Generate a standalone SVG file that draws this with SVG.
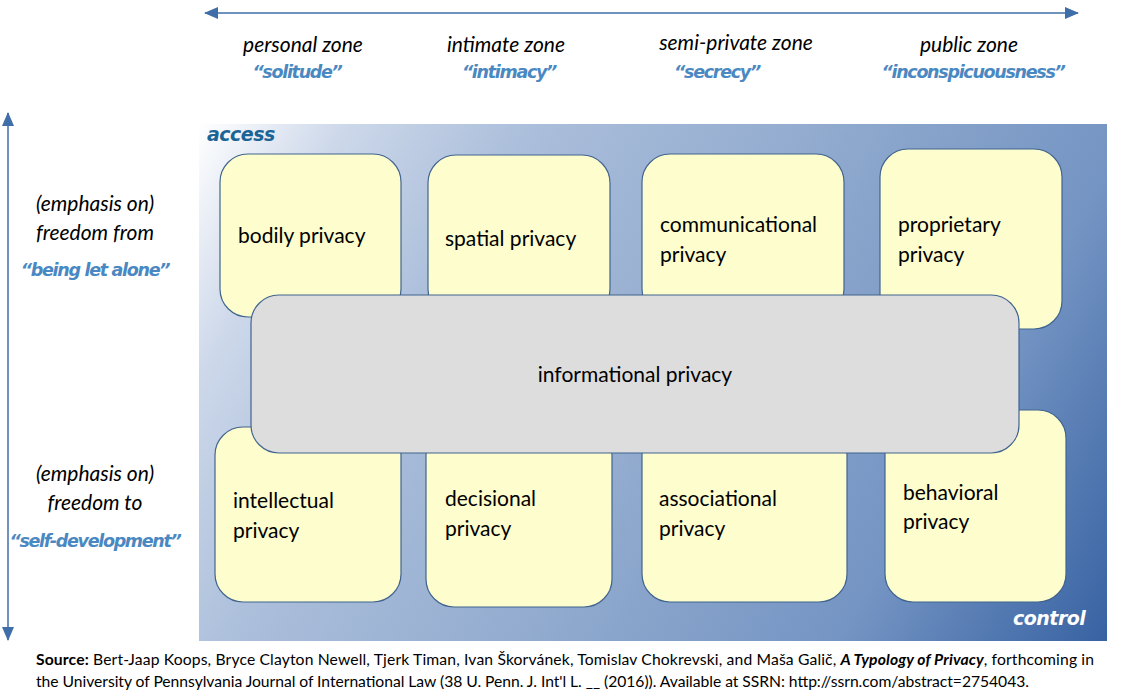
<svg xmlns="http://www.w3.org/2000/svg" width="1125" height="700" viewBox="0 0 1125 700">
<defs>
<linearGradient id="bg" gradientUnits="userSpaceOnUse" x1="199" y1="124" x2="1107" y2="641">
<stop offset="0" stop-color="#ffffff"/>
<stop offset="0.12" stop-color="#cdd8ea"/>
<stop offset="0.27" stop-color="#acbfdb"/>
<stop offset="0.55" stop-color="#8ea8cd"/>
<stop offset="0.78" stop-color="#7494c3"/>
<stop offset="1" stop-color="#3762a2"/>
</linearGradient>
<marker id="ah" viewBox="0 0 14 12" refX="13" refY="6" markerWidth="14" markerHeight="12" markerUnits="userSpaceOnUse" orient="auto-start-reverse">
<path d="M0,0 L14,6 L0,12 Z" fill="#3f6ea8"/>
</marker>
</defs>
<style>
.node{fill:#fdfdcd;stroke:#41648f;stroke-width:1.2}
.info{fill:#dddddd;stroke:#41648f;stroke-width:1.2}
.nt{font-family:Lato,"Liberation Sans",sans-serif;font-size:21px;fill:#000}
.zone{font-family:Lato,"Liberation Sans",sans-serif;font-style:italic;font-size:21px;fill:#000;text-anchor:middle}
.quote{font-family:"DejaVu Sans",Verdana,sans-serif;font-style:italic;font-weight:bold;font-size:17.5px;fill:#4a88c2;text-anchor:middle;letter-spacing:-1.3px}
.corner{font-family:"DejaVu Sans",Verdana,sans-serif;font-style:italic;font-weight:bold;font-size:19px;letter-spacing:-0.5px}
.src{font-family:Lato,"Liberation Sans",sans-serif;font-size:15.7px;fill:#000}
.axis{stroke:#3f6ea8;stroke-width:1.5;fill:none}
</style>
<rect x="0" y="0" width="1125" height="700" fill="#ffffff"/>
<rect id="frame" x="199" y="124" width="908" height="517" fill="url(#bg)"/>
<text class="corner" x="207" y="141" fill="#1a6496">access</text>
<text class="corner" x="1013" y="625" fill="#ffffff">control</text>

<g id="connectors">
<line class="axis" x1="205" y1="13" x2="1078" y2="13" marker-start="url(#ah)" marker-end="url(#ah)"/>
<line class="axis" x1="8" y1="113" x2="8" y2="640" marker-start="url(#ah)" marker-end="url(#ah)"/>
</g>

<g id="zones">
<text class="zone" x="303" y="52">personal zone</text>
<text class="quote" x="297" y="78">“solitude”</text>
<text class="zone" x="506" y="52">intimate zone</text>
<text class="quote" x="509" y="78">“intimacy”</text>
<text class="zone" x="736" y="50">semi-private zone</text>
<text class="quote" x="717" y="78">“secrecy”</text>
<text class="zone" x="969" y="52">public zone</text>
<text class="quote" x="973" y="78">“inconspicuousness”</text>
</g>

<g id="side-labels">
<text class="zone" x="95" y="211">(emphasis on)</text>
<text class="zone" x="95" y="240">freedom from</text>
<text class="quote" x="95" y="276">“being let alone”</text>
<text class="zone" x="95" y="481">(emphasis on)</text>
<text class="zone" x="95" y="510">freedom to</text>
<text class="quote" x="95" y="547">“self-development”</text>
</g>

<g id="bodily"><rect class="node" x="220" y="154" width="181" height="163" rx="28"/><text class="nt" x="238" y="243">bodily privacy</text></g>
<g id="spatial"><rect class="node" x="428" y="155" width="182" height="162" rx="28"/><text class="nt" x="445" y="246">spatial privacy</text></g>
<g id="communicational"><rect class="node" x="642" y="154" width="202" height="163" rx="28"/><text class="nt" x="660" y="232">communicational</text><text class="nt" x="660" y="262">privacy</text></g>
<g id="proprietary"><rect class="node" x="880" y="149" width="182" height="180" rx="28"/><text class="nt" x="898" y="232">proprietary</text><text class="nt" x="898" y="262">privacy</text></g>

<g id="intellectual"><rect class="node" x="215" y="427" width="186" height="175" rx="28"/><text class="nt" x="233" y="508">intellectual</text><text class="nt" x="233" y="538">privacy</text></g>
<g id="decisional"><rect class="node" x="426" y="427" width="186" height="180" rx="28"/><text class="nt" x="445" y="506">decisional</text><text class="nt" x="445" y="536">privacy</text></g>
<g id="associational"><rect class="node" x="642" y="427" width="205" height="175" rx="28"/><text class="nt" x="659" y="506">associational</text><text class="nt" x="659" y="536">privacy</text></g>
<g id="behavioral"><rect class="node" x="885" y="410" width="181" height="192" rx="28"/><text class="nt" x="903" y="500">behavioral</text><text class="nt" x="903" y="529">privacy</text></g>

<g id="informational"><rect class="info" x="251" y="295" width="768" height="158" rx="28"/><text class="nt" x="635" y="382" text-anchor="middle">informational privacy</text></g>

<g id="source">
<text class="src" x="36" y="665" textLength="1058" lengthAdjust="spacing"><tspan font-weight="bold">Source:</tspan> Bert-Jaap Koops, Bryce Clayton Newell, Tjerk Timan, Ivan Škorvánek, Tomislav Chokrevski, and Maša Galič, <tspan font-weight="bold" font-style="italic">A Typology of Privacy</tspan>, forthcoming in</text>
<text class="src" x="36" y="687" textLength="993" lengthAdjust="spacing">the University of Pennsylvania Journal of International Law (38 U. Penn. J. Int'l L. __ (2016)). Available at SSRN: http://ssrn.com/abstract=2754043.</text>
</g>
</svg>
